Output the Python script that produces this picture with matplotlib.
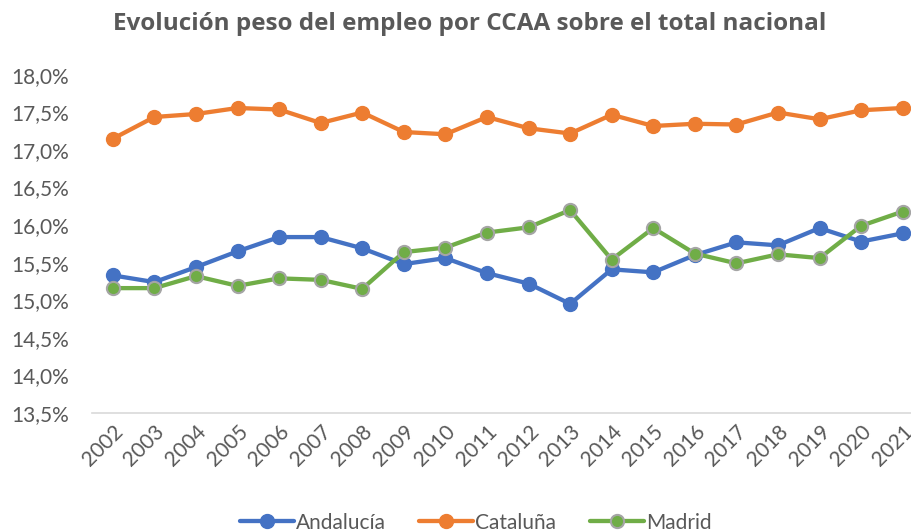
"""Evolución del peso del empleo por CCAA sobre el total nacional."""

import matplotlib

matplotlib.use("Agg")
import matplotlib.pyplot as plt
from matplotlib.ticker import FuncFormatter, MultipleLocator

years = [str(y) for y in range(2002, 2022)]

andalucia = [15.33, 15.24, 15.44, 15.65, 15.84, 15.84, 15.69, 15.48, 15.56, 15.36,
             15.22, 14.95, 15.41, 15.37, 15.60, 15.77, 15.73, 15.96, 15.78, 15.89]
cataluna = [17.15, 17.44, 17.48, 17.56, 17.54, 17.36, 17.50, 17.24, 17.21, 17.44,
            17.29, 17.22, 17.47, 17.32, 17.35, 17.34, 17.50, 17.41, 17.53, 17.56]
madrid = [15.16, 15.16, 15.32, 15.19, 15.29, 15.27, 15.15, 15.64, 15.70, 15.90,
          15.97, 16.20, 15.54, 15.96, 15.62, 15.49, 15.61, 15.56, 15.99, 16.18]

TEXT = "#595959"
plt.rcParams["font.family"] = ["Lato", "DejaVu Sans"]

fig = plt.figure(figsize=(9.11, 5.31), dpi=100)
ax = fig.add_axes([0.101, 0.2228, 0.9127, 0.636])

x = range(len(years))
ax.plot(x, andalucia, color="#4472C4", lw=3.1, marker="o", ms=10,
        label="Andalucía", solid_capstyle="round")
ax.plot(x, cataluna, color="#ED7D31", lw=3.1, marker="o", ms=10,
        label="Cataluña", solid_capstyle="round")
ax.plot(x, madrid, color="#70AD47", lw=3.1, marker="o", ms=9.5,
        markeredgecolor="#A5A5A5", markeredgewidth=1.5, label="Madrid",
        solid_capstyle="round")

ax.set_xlim(-0.5, len(years) - 0.5)
ax.set_ylim(13.5, 18.0)
ax.yaxis.set_major_locator(MultipleLocator(0.5))
ax.yaxis.set_major_formatter(FuncFormatter(lambda v, _: f"{v:.1f}%".replace(".", ",")))
ax.set_xticks(list(x))
ax.set_xticklabels(years, rotation=45, ha="right", rotation_mode="anchor")

for side in ["top", "right", "left"]:
    ax.spines[side].set_visible(False)
ax.spines["bottom"].set_color("#D9D9D9")
ax.spines["bottom"].set_linewidth(1.2)
ax.tick_params(axis="y", length=0, labelsize=15, labelcolor=TEXT, pad=16.5)
ax.tick_params(axis="x", length=0, labelsize=15, labelcolor=TEXT, pad=6)

fig.text(0.516, 0.955, "Evolución peso del empleo por CCAA sobre el total nacional",
         ha="center", va="center", fontsize=17.5, fontweight="bold", color=TEXT,
         family=["Open Sans", "DejaVu Sans"])

fig.legend(loc="center", bbox_to_anchor=(0.522, 0.016), ncol=3, frameon=False,
           fontsize=15, labelcolor=TEXT, handlelength=2.6, handletextpad=0.1,
           columnspacing=1.6)

fig.savefig("out.png", dpi=100)
